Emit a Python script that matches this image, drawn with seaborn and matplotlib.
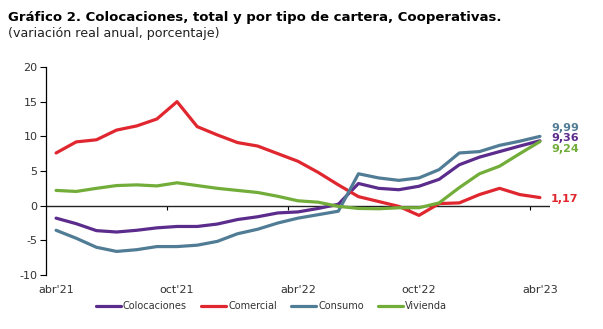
import matplotlib
matplotlib.use("Agg")
import matplotlib.pyplot as plt
import seaborn as sns
import pandas as pd
import numpy as np

# ---- data (monthly, abr'21 .. abr'23) ----
months = ["abr'21", "may'21", "jun'21", "jul'21", "ago'21", "sep'21", "oct'21", "nov'21",
          "dic'21", "ene'22", "feb'22", "mar'22", "abr'22", "may'22", "jun'22", "jul'22",
          "ago'22", "sep'22", "oct'22", "nov'22", "dic'22", "ene'23", "feb'23", "mar'23", "abr'23"]
colocaciones = [-1.8, -2.6, -3.6, -3.8, -3.55, -3.2, -3.0, -3.0, -2.65, -2.0, -1.6, -1.05, -0.9,
                -0.4, 0.2, 3.2, 2.5, 2.3, 2.8, 3.8, 5.9, 7.0, 7.8, 8.6, 9.36]
comercial = [7.6, 9.2, 9.5, 10.9, 11.5, 12.5, 15.0, 11.4, 10.2, 9.1, 8.6, 7.5, 6.4,
             4.8, 3.0, 1.3, 0.6, -0.1, -1.4, 0.3, 0.4, 1.6, 2.5, 1.6, 1.17]
consumo = [-3.55, -4.7, -6.0, -6.6, -6.35, -5.9, -5.9, -5.7, -5.15, -4.05, -3.4, -2.5, -1.8,
           -1.3, -0.8, 4.6, 4.0, 3.65, 4.0, 5.2, 7.6, 7.8, 8.7, 9.3, 9.99]
vivienda = [2.2, 2.05, 2.5, 2.9, 3.0, 2.85, 3.3, 2.9, 2.5, 2.2, 1.9, 1.35, 0.7,
            0.5, -0.1, -0.4, -0.45, -0.3, -0.3, 0.4, 2.6, 4.6, 5.7, 7.5, 9.24]
end_labels = ["9,36", "1,17", "9,99", "9,24"]
tick_labels = ["abr'21", "oct'21", "abr'22", "oct'22", "abr'23"]

series_names = ["Colocaciones", "Comercial", "Consumo", "Vivienda"]
colors = ["#5B2C8C", "#E0262E", "#517C95", "#72AD3A"]

df = pd.DataFrame({"mes": np.arange(len(months)),
                   "Colocaciones": colocaciones, "Comercial": comercial,
                   "Consumo": consumo, "Vivienda": vivienda})
long = df.melt(id_vars="mes", var_name="serie", value_name="valor")

sns.set_theme(style="white")
plt.rcParams['font.family'] = ['DejaVu Sans']
plt.rcParams['axes.unicode_minus'] = False

fig = plt.figure(figsize=(6.03, 3.29), dpi=100)
ax = fig.add_axes([46/603, 1-275/329, (550-46)/603, (275-67)/329])

sns.lineplot(data=long, x="mes", y="valor", hue="serie", hue_order=series_names,
             palette=colors, linewidth=2.3, ax=ax, legend=True)
for ln in ax.lines:
    ln.set_solid_joinstyle("round")
    ln.set_solid_capstyle("round")

ax.set_xlim(-0.5, len(months) - 0.5)
ax.set_ylim(-10, 20)
ax.set_yticks(range(-10, 21, 5))
ax.set_xticks([0, 6, 12, 18, 24])
ax.set_xticklabels(tick_labels)
ax.tick_params(axis="x", length=0, labelsize=8, colors="#333333", pad=7)
ax.tick_params(axis="y", direction="out", length=4, width=0.8, color="black",
               labelsize=8, labelcolor="#333333", left=True, pad=2)
ax.set_xlabel("")
ax.set_ylabel("")
for s in ["top", "right", "bottom"]:
    ax.spines[s].set_visible(False)
ax.spines["left"].set_color("black")
ax.spines["left"].set_linewidth(0.9)

# zero line with tick marks
ax.axhline(0, color="#222222", linewidth=1.0, zorder=1)
sec = ax.secondary_xaxis(1/3)
sec.set_xticks([5.5, 11.5, 17.5, 23.5])
sec.set_xticklabels([])
sec.tick_params(direction="out", length=3, width=0.8, color="black")
sec.spines["bottom"].set_visible(False)
sec.spines["top"].set_visible(False)

# end value labels
offsets = {"Colocaciones": 3, "Comercial": -1, "Consumo": 8, "Vivienda": -7}
for name, lab, col in zip(series_names, end_labels, colors):
    yv = df[name].iloc[-1]
    ax.annotate(lab, xy=(len(months) - 1, yv), xytext=(11, offsets[name]),
                textcoords="offset pixels", color=col, fontsize=8, fontweight="bold",
                va="center", ha="left", annotation_clip=False)

leg = ax.legend(loc="center", bbox_to_anchor=(0.447, -0.149), ncol=4, frameon=False,
                fontsize=7, handlelength=2.6, handletextpad=0.2, columnspacing=1.45,
                borderaxespad=0, borderpad=0)
for h in leg.get_lines():
    h.set_linewidth(2.3)
for t in leg.get_texts():
    t.set_color("#333333")

fig.text(8/603, 1-18/329, "Gráfico 2. Colocaciones, total y por tipo de cartera, Cooperativas.",
         fontsize=9.5, fontweight="bold", color="black", va="center", ha="left")
fig.text(8/603, 1-33/329, "(variación real anual, porcentaje)",
         fontsize=9.1, color="#222222", va="center", ha="left")

fig.savefig("out.png", dpi=100)
